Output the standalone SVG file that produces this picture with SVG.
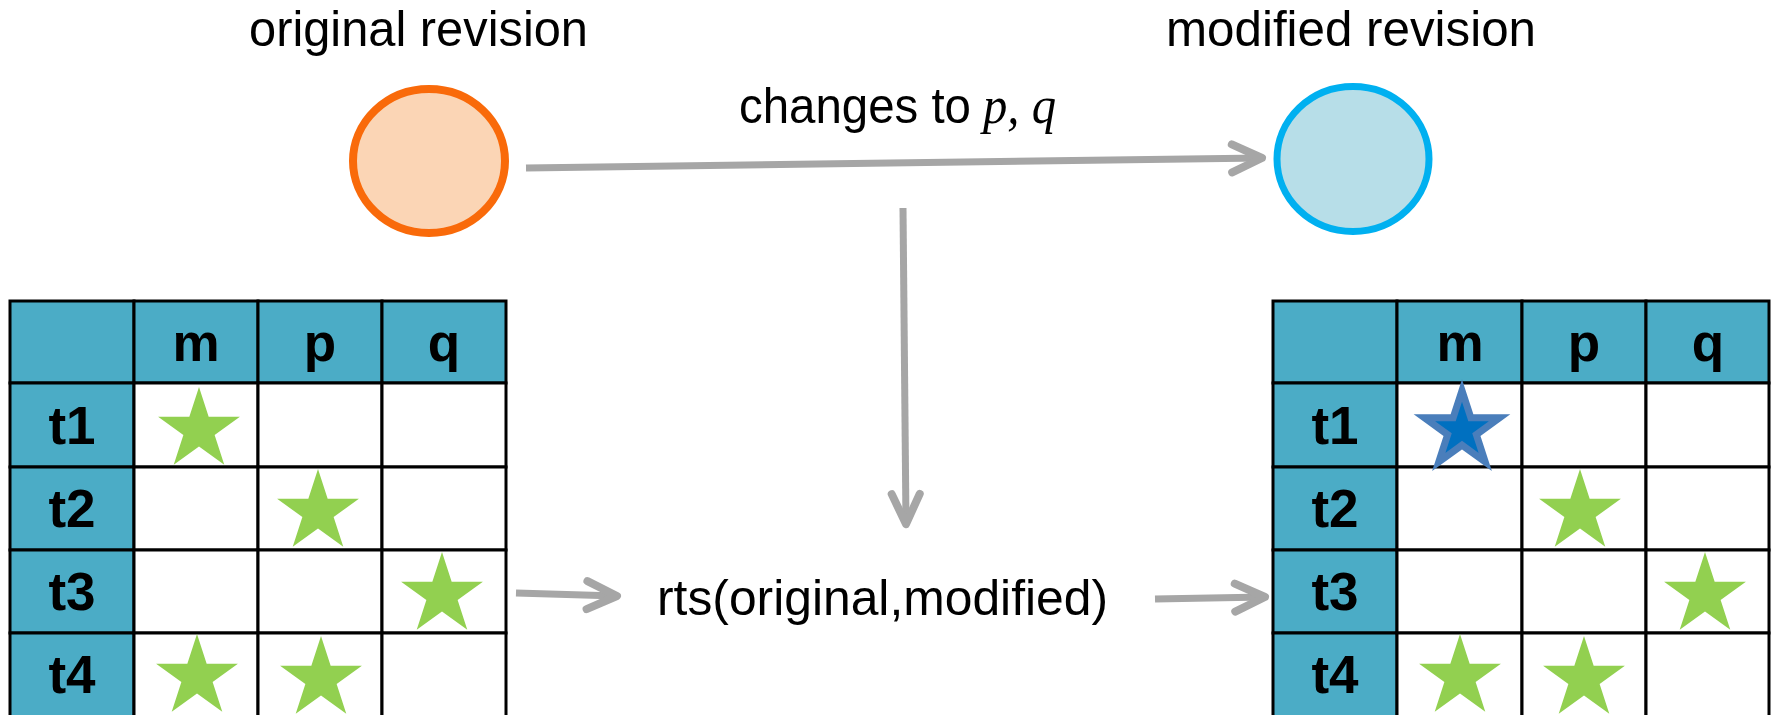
<svg xmlns="http://www.w3.org/2000/svg" xmlns:xlink="http://www.w3.org/1999/xlink" width="1777" height="715" viewBox="0 0 1777 715">
  <style>
    .title { font-family: "Liberation Sans", Arial, sans-serif; font-size: 50px; fill: #000; }
    .label { font-family: "Liberation Sans", Arial, sans-serif; font-size: 50px; fill: #000; }
    .math { font-family: "Liberation Serif", "Times New Roman", serif; font-style: italic; font-size: 52px; }
    .cellhead { fill: #4BACC6; stroke: #000; stroke-width: 3; }
    .cell { fill: #FFFFFF; stroke: #000; stroke-width: 3; }
    .hdr { font-family: "Liberation Sans", Arial, sans-serif; font-weight: bold; font-size: 53px; fill: #000; text-anchor: middle; }
    .conn { fill: none; stroke: #A6A6A6; stroke-width: 7; marker-end: url(#chev); }
    .green { fill: #92D050; }
    .blue { fill: #0070C0; stroke: #4A7EBB; stroke-width: 7; stroke-linejoin: miter; }
  </style>
  <defs>
    <marker id="chev" markerUnits="userSpaceOnUse" orient="auto" overflow="visible" markerWidth="1" markerHeight="1" refX="0" refY="0">
      <path d="M-30,-14 L0,0 L-30,14" fill="none" stroke="#A6A6A6" stroke-width="8" stroke-linecap="round" stroke-linejoin="round"/>
    </marker>
    <polygon id="star" points="0,-43 9.66,-13.29 40.9,-13.29 15.63,5.08 25.28,34.79 0,16.43 -25.28,34.79 -15.63,5.08 -40.9,-13.29 -9.66,-13.29"/>
    <polygon id="starSmall" points="0,-39.5 8.87,-12.21 37.57,-12.21 14.35,4.66 23.22,31.96 0,15.09 -23.22,31.96 -14.35,4.66 -37.57,-12.21 -8.87,-12.21"/>
  </defs>

  <rect width="1777" height="715" fill="#FFFFFF"/>

  <!-- revision nodes -->
  <g id="original-revision">
    <ellipse cx="429" cy="161" rx="76" ry="72" fill="#FBD5B5" stroke="#F96A0A" stroke-width="8"/>
    <text class="title" x="249" y="46" textLength="339" lengthAdjust="spacingAndGlyphs">original revision</text>
  </g>
  <g id="modified-revision">
    <ellipse cx="1353" cy="159" rx="76" ry="72.5" fill="#B7DEE8" stroke="#00B0F0" stroke-width="7"/>
    <text class="title" x="1166" y="46" textLength="370" lengthAdjust="spacingAndGlyphs">modified revision</text>
  </g>

  <g id="rts-node">
    <text class="label" x="657" y="615" font-size="54px" textLength="451" lengthAdjust="spacingAndGlyphs">rts(original,modified)</text>
  </g>

  <g id="change-label">
    <text class="label" x="739" y="123" textLength="232" lengthAdjust="spacingAndGlyphs">changes to</text>
    <text class="label math" x="983" y="123" textLength="73" lengthAdjust="spacingAndGlyphs">p, q</text>
  </g>

  <!-- original test matrix -->
  <g id="table-original">
    <rect class="cellhead" x="10" y="301" width="124" height="82"/>
    <rect class="cellhead" x="134" y="301" width="124" height="82"/>
    <rect class="cellhead" x="258" y="301" width="124" height="82"/>
    <rect class="cellhead" x="382" y="301" width="124" height="82"/>
    <rect class="cellhead" x="10" y="383" width="124" height="84"/>
    <rect class="cellhead" x="10" y="467" width="124" height="83"/>
    <rect class="cellhead" x="10" y="550" width="124" height="83"/>
    <rect class="cellhead" x="10" y="633" width="124" height="90"/>
    <rect class="cell" x="134" y="383" width="124" height="84"/>
    <rect class="cell" x="258" y="383" width="124" height="84"/>
    <rect class="cell" x="382" y="383" width="124" height="84"/>
    <rect class="cell" x="134" y="467" width="124" height="83"/>
    <rect class="cell" x="258" y="467" width="124" height="83"/>
    <rect class="cell" x="382" y="467" width="124" height="83"/>
    <rect class="cell" x="134" y="550" width="124" height="83"/>
    <rect class="cell" x="258" y="550" width="124" height="83"/>
    <rect class="cell" x="382" y="550" width="124" height="83"/>
    <rect class="cell" x="134" y="633" width="124" height="90"/>
    <rect class="cell" x="258" y="633" width="124" height="90"/>
    <rect class="cell" x="382" y="633" width="124" height="90"/>
    <text class="hdr" x="196" y="361">m</text>
    <text class="hdr" x="320" y="361">p</text>
    <text class="hdr" x="444" y="361">q</text>
    <text class="hdr" x="72" y="444">t1</text>
    <text class="hdr" x="72" y="527">t2</text>
    <text class="hdr" x="72" y="610">t3</text>
    <text class="hdr" x="72" y="693">t4</text>
    <use xlink:href="#star" class="green" x="199" y="430"/>
    <use xlink:href="#star" class="green" x="318" y="512"/>
    <use xlink:href="#star" class="green" x="442" y="595"/>
    <use xlink:href="#star" class="green" x="197" y="677"/>
    <use xlink:href="#star" class="green" x="321" y="679"/>
  </g>

  <!-- modified test matrix -->
  <g id="table-modified">
    <rect class="cellhead" x="1273" y="301" width="124" height="82"/>
    <rect class="cellhead" x="1397" y="301" width="125" height="82"/>
    <rect class="cellhead" x="1522" y="301" width="124" height="82"/>
    <rect class="cellhead" x="1646" y="301" width="123" height="82"/>
    <rect class="cellhead" x="1273" y="383" width="124" height="84"/>
    <rect class="cellhead" x="1273" y="467" width="124" height="83"/>
    <rect class="cellhead" x="1273" y="550" width="124" height="83"/>
    <rect class="cellhead" x="1273" y="633" width="124" height="90"/>
    <rect class="cell" x="1397" y="383" width="125" height="84"/>
    <rect class="cell" x="1522" y="383" width="124" height="84"/>
    <rect class="cell" x="1646" y="383" width="123" height="84"/>
    <rect class="cell" x="1397" y="467" width="125" height="83"/>
    <rect class="cell" x="1522" y="467" width="124" height="83"/>
    <rect class="cell" x="1646" y="467" width="123" height="83"/>
    <rect class="cell" x="1397" y="550" width="125" height="83"/>
    <rect class="cell" x="1522" y="550" width="124" height="83"/>
    <rect class="cell" x="1646" y="550" width="123" height="83"/>
    <rect class="cell" x="1397" y="633" width="125" height="90"/>
    <rect class="cell" x="1522" y="633" width="124" height="90"/>
    <rect class="cell" x="1646" y="633" width="123" height="90"/>
    <text class="hdr" x="1460" y="361">m</text>
    <text class="hdr" x="1584" y="361">p</text>
    <text class="hdr" x="1708" y="361">q</text>
    <text class="hdr" x="1335" y="444">t1</text>
    <text class="hdr" x="1335" y="527">t2</text>
    <text class="hdr" x="1335" y="610">t3</text>
    <text class="hdr" x="1335" y="693">t4</text>
    <use xlink:href="#starSmall" class="blue" x="1462" y="430"/>
    <use xlink:href="#star" class="green" x="1580" y="512"/>
    <use xlink:href="#star" class="green" x="1705" y="595"/>
    <use xlink:href="#star" class="green" x="1460" y="677"/>
    <use xlink:href="#star" class="green" x="1584" y="679"/>
  </g>

  <!-- connectors -->
  <g id="connectors">
    <path class="conn" d="M526,168 L1262,158"/>
    <path class="conn" d="M903,208 L906,524"/>
    <path class="conn" d="M516,593 L617,596"/>
    <path class="conn" d="M1155,599 L1265,597"/>
  </g>
</svg>
